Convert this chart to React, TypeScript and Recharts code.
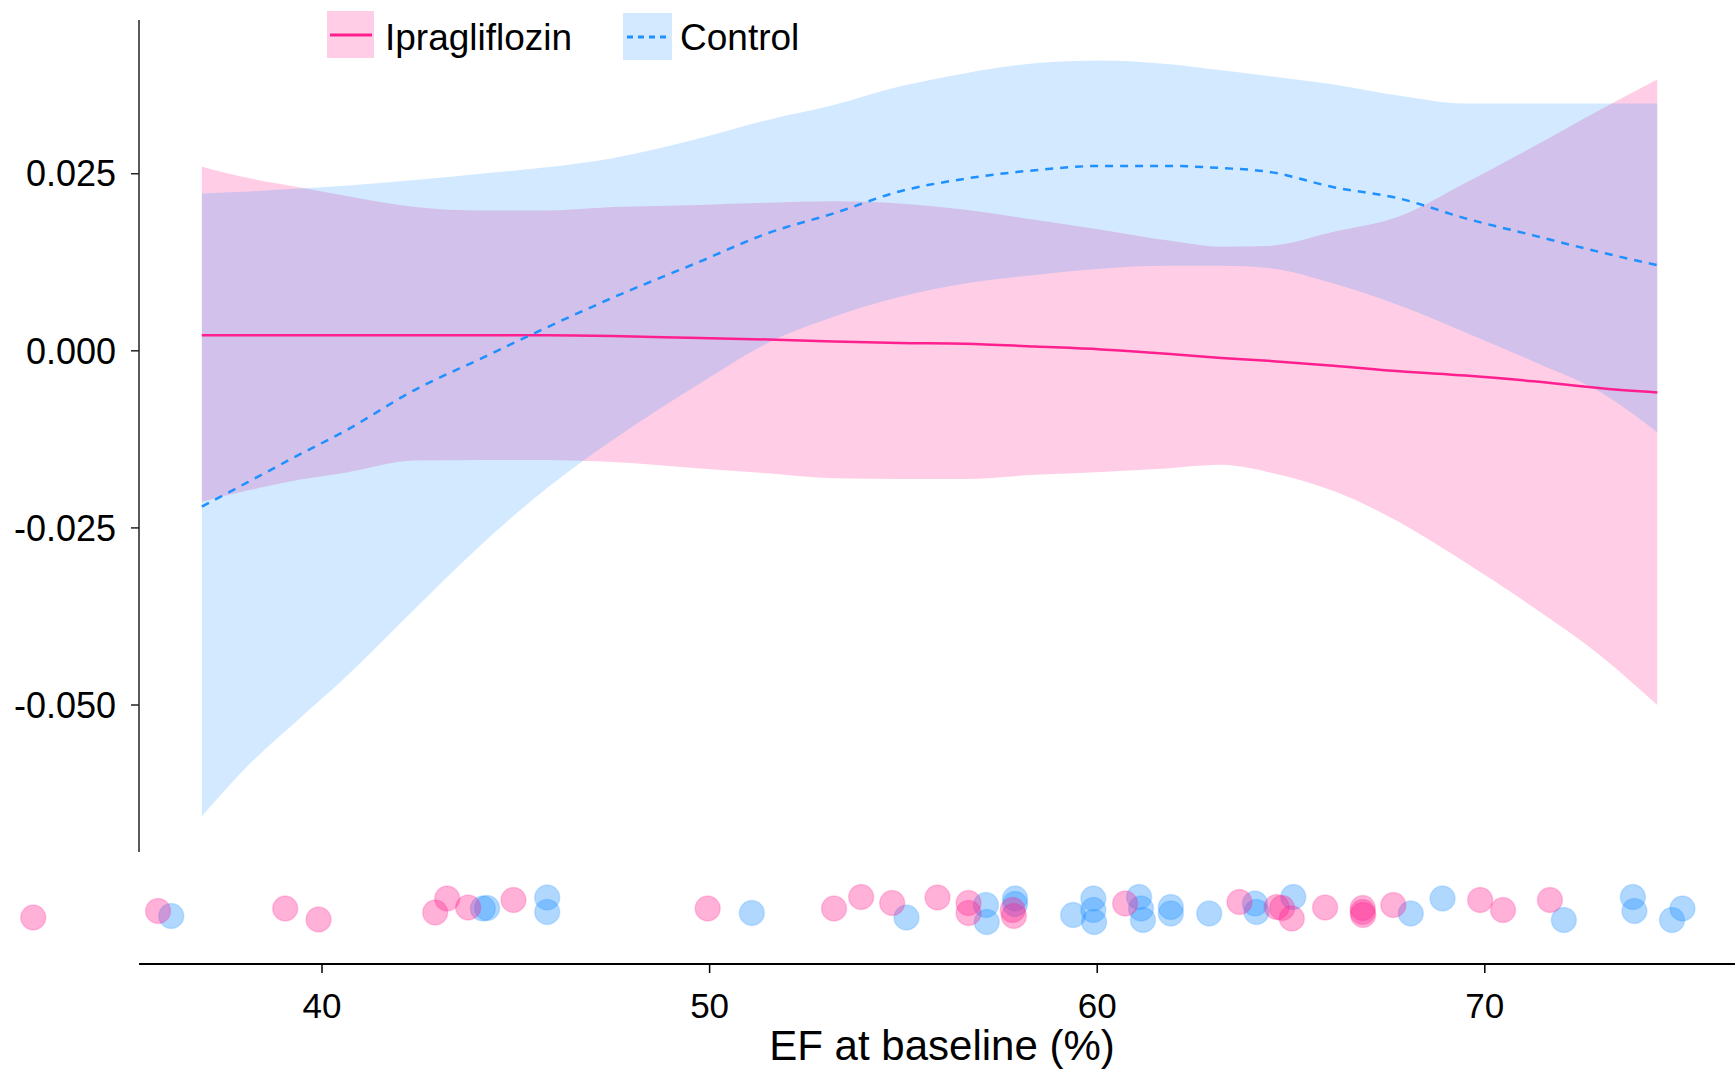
import React from 'react';
import {
  ComposedChart,
  Area,
  Line,
  Scatter,
  XAxis,
  YAxis,
  ReferenceLine,
  Label,
} from 'recharts';

// Fitted curves (EF at baseline vs. effect)
const efGrid = [36.9, 38.1, 39.4, 40.6, 42.4, 44.1, 45.8, 47.5, 49.75, 51.5, 53.2, 54.9, 56.6, 58.4, 60.1, 61.8, 63.2, 64.4, 66.1, 67.8, 69.5, 71.25, 73.0, 74.45];

const ipraFit = [0.0022, 0.0022, 0.0022, 0.0022, 0.0022, 0.0022, 0.0022, 0.0021, 0.0018, 0.0016, 0.0013, 0.0011, 0.001, 0.0006, 0.0002, -0.0004, -0.001, -0.0014, -0.0021, -0.0029, -0.0035, -0.0043, -0.0053, -0.0059];
const ipraLower = [-0.0213, -0.0197, -0.0182, -0.0172, -0.0155, -0.0154, -0.0154, -0.0157, -0.0166, -0.0173, -0.018, -0.0181, -0.0181, -0.0175, -0.0171, -0.0166, -0.0161, -0.0171, -0.0198, -0.0242, -0.0299, -0.0362, -0.0431, -0.05];
const ipraUpper = [0.026, 0.0244, 0.0231, 0.0219, 0.0203, 0.0198, 0.0198, 0.0203, 0.0206, 0.0209, 0.0211, 0.0208, 0.0199, 0.0185, 0.0171, 0.0156, 0.0147, 0.0148, 0.0168, 0.019, 0.0237, 0.0288, 0.0341, 0.0383];

const ctrlFit = [-0.022, -0.0185, -0.0147, -0.0113, -0.0055, -0.0011, 0.0033, 0.0075, 0.0126, 0.0166, 0.0194, 0.0225, 0.0243, 0.0255, 0.0261, 0.0261, 0.0258, 0.0253, 0.0231, 0.0215, 0.0187, 0.0163, 0.0139, 0.0121];
const ctrlLower = [-0.0657, -0.0585, -0.052, -0.0461, -0.0364, -0.0274, -0.0194, -0.0126, -0.0046, 0.0011, 0.0048, 0.0076, 0.0095, 0.0107, 0.0116, 0.012, 0.012, 0.0117, 0.0095, 0.0064, 0.0026, -0.0015, -0.0059, -0.0115];
const ctrlUpper = [0.0222, 0.0225, 0.0229, 0.0233, 0.0241, 0.025, 0.0259, 0.0272, 0.03, 0.0326, 0.0347, 0.0373, 0.0392, 0.0406, 0.041, 0.0405, 0.0396, 0.0388, 0.0376, 0.036, 0.0349, 0.0349, 0.0349, 0.0349];

// Individual patients (jitter = vertical offset in the rug panel)
const ipraEF = [32.55, 35.77, 39.05, 39.91, 42.92, 43.23, 43.77, 44.94, 49.95, 53.21, 53.91, 54.71, 55.88, 56.68, 56.68, 57.82, 57.85, 60.72, 63.67, 64.63, 64.77, 65.02, 65.88, 66.85, 66.85, 66.86, 67.64, 69.88, 70.47, 71.68];
const ipraJitter = [46.5, 53, 55.5, 44.5, 51.5, 65.5, 56.5, 64, 55.5, 55.5, 67, 61, 66.5, 61, 51, 54, 48, 60.5, 62, 57, 56, 45.5, 56.5, 56, 52, 49, 59, 64, 54, 64];

const ctrlEF = [36.11, 44.15, 44.26, 45.81, 45.81, 51.09, 55.08, 57.13, 57.15, 57.88, 57.88, 59.38, 59.9, 59.9, 59.92, 61.08, 61.13, 61.18, 61.9, 61.9, 62.89, 64.07, 64.11, 65.06, 68.09, 68.91, 72.04, 73.82, 73.86, 74.83, 75.1];
const ctrlJitter = [48, 55.5, 56, 66.5, 52, 51, 46.5, 59, 42, 65.5, 60, 49, 65.5, 54, 42, 67, 55.5, 44, 57, 50.5, 50.5, 60.5, 52, 67, 50.5, 65.5, 44, 67, 53, 44, 55.5];

const yTicks = [-0.05, -0.025, 0, 0.025];
const xTicks = [40, 50, 60, 70];

const PINK = '#ff1f8f';
const BLUE = '#1e90ff';
const FONT = '"Liberation Sans", Arial, sans-serif';

const W = 1735;
const TOP_H = 852;
const AXIS_LEFT_EF = 35.279; // where the y-axis sits
const X_MIN = 31.692;
const X_MAX = 76.455;

const curveRows = efGrid.map((ef, i) => ({
  ef,
  ipraFit: ipraFit[i],
  ipraBand: [ipraLower[i], ipraUpper[i]],
  ctrlFit: ctrlFit[i],
  ctrlBand: [ctrlLower[i], ctrlUpper[i]],
}));

const ipraPoints = ipraEF.map((ef, i) => ({ ef, jitter: ipraJitter[i] }));
const ctrlPoints = ctrlEF.map((ef, i) => ({ ef, jitter: ctrlJitter[i] }));

const dotShape = (color: string) => (props: any) => (
  <circle
    cx={props.cx}
    cy={props.cy}
    r={12.5}
    fill={color}
    fillOpacity={0.35}
    stroke={color}
    strokeOpacity={0.2}
    strokeWidth={1.5}
  />
);

const LegendBox = () => (
  <svg width={900} height={70} style={{ position: 'absolute', left: 0, top: 0 }}>
    <rect x={327} y={11} width={47} height={47} fill={PINK} fillOpacity={0.22} />
    <line x1={330} x2={372} y1={35} y2={35} stroke={PINK} strokeWidth={3} />
    <text x={385} y={50} fontSize={37} fill="#000" fontFamily={FONT}>Ipragliflozin</text>
    <rect x={623} y={13} width={49} height={47} fill={BLUE} fillOpacity={0.2} />
    <line x1={627} x2={669} y1={37} y2={37} stroke={BLUE} strokeWidth={3} strokeDasharray="6 5" />
    <text x={680} y={50} fontSize={37} fill="#000" fontFamily={FONT}>Control</text>
  </svg>
);

export default function App() {
  return (
    <div style={{ position: 'absolute', left: 0, top: 0, width: W, height: 1070, background: '#fff', fontFamily: FONT }}>
      <div style={{ position: 'absolute', left: 0, top: 0 }}>
        <ComposedChart width={W} height={TOP_H} data={curveRows} margin={{ top: 20, right: 0, bottom: 0, left: 0 }}>
          <XAxis dataKey="ef" type="number" domain={[AXIS_LEFT_EF, X_MAX]} allowDataOverflow hide />
          <YAxis
            type="number"
            domain={[-0.07075, 0.0467]}
            allowDataOverflow
            ticks={yTicks}
            tickFormatter={(v: number) => v.toFixed(3)}
            width={139}
            tickSize={8}
            tickMargin={15}
            axisLine={{ stroke: '#222', strokeWidth: 1.5 }}
            tickLine={{ stroke: '#222', strokeWidth: 1.5 }}
            tick={{ fontSize: 36, fill: '#000' }}
          />
          <Area type="monotone" dataKey="ipraBand" stroke="none" fill={PINK} fillOpacity={0.22} isAnimationActive={false} />
          <Area type="monotone" dataKey="ctrlBand" stroke="none" fill={BLUE} fillOpacity={0.2} isAnimationActive={false} />
          <Line type="monotone" dataKey="ipraFit" stroke={PINK} strokeWidth={2.5} dot={false} isAnimationActive={false} />
          <Line type="monotone" dataKey="ctrlFit" stroke={BLUE} strokeWidth={2.5} strokeDasharray="8 7" dot={false} isAnimationActive={false} />
        </ComposedChart>
      </div>
      <div style={{ position: 'absolute', left: 0, top: TOP_H }}>
        <ComposedChart width={W} height={218} margin={{ top: 0, right: 0, bottom: 0, left: 0 }}>
          <XAxis
            dataKey="ef"
            type="number"
            domain={[X_MIN, X_MAX]}
            allowDataOverflow
            ticks={xTicks}
            height={106}
            tickSize={9}
            tickMargin={20}
            axisLine={false}
            tickLine={{ stroke: '#000', strokeWidth: 1.5 }}
            tick={{ fontSize: 35, fill: '#000' }}
          />
          <YAxis type="number" dataKey="jitter" domain={[0, 112]} allowDataOverflow hide />
          <ReferenceLine
            segment={[{ x: AXIS_LEFT_EF, y: 0 }, { x: X_MAX, y: 0 }]}
            stroke="#000"
            strokeWidth={2}
            ifOverflow="visible"
          >
            <Label value="EF at baseline (%)" position="bottom" offset={66} dx={5} fontSize={42} fill="#000" />
          </ReferenceLine>
          <Scatter data={ctrlPoints} dataKey="jitter" shape={dotShape(BLUE)} isAnimationActive={false} />
          <Scatter data={ipraPoints} dataKey="jitter" shape={dotShape(PINK)} isAnimationActive={false} />
        </ComposedChart>
      </div>
      <LegendBox />
    </div>
  );
}
